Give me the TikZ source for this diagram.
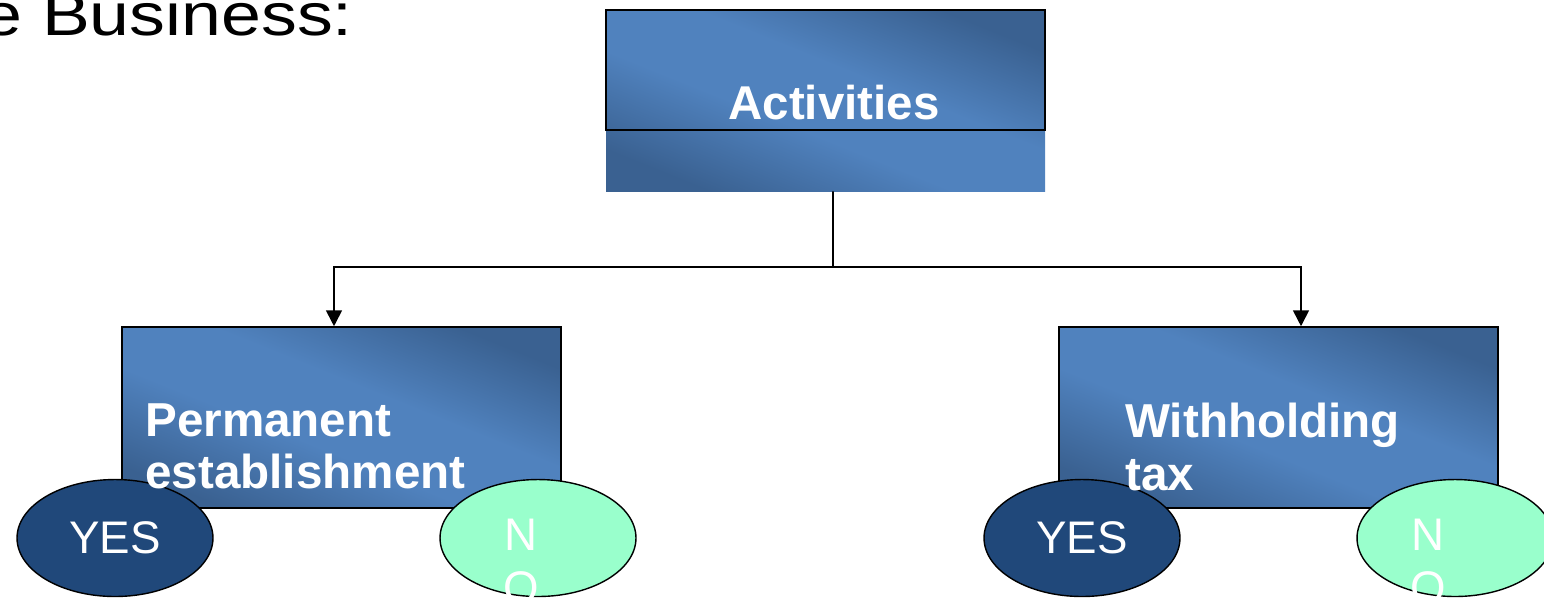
\documentclass[tikz,border=0pt]{standalone}
\usepackage{fontspec}
\setmainfont{Liberation Sans}
\usepackage{xcolor}
\usepackage{graphicx}
\usetikzlibrary{arrows.meta, shapes.geometric, positioning, fit, calc}

\definecolor{boxlight}{RGB}{80,130,190}
\definecolor{boxdark}{RGB}{58,97,145}
\definecolor{yesblue}{RGB}{32,72,122}
\definecolor{nomint}{RGB}{153,255,204}

\pgfdeclareverticalshading{boxshade}{100bp}{color(0bp)=(boxdark);
  color(25bp)=(boxdark); color(43bp)=(boxlight); color(57bp)=(boxlight);
  color(75bp)=(boxdark); color(100bp)=(boxdark)}

\begin{document}
\begin{tikzpicture}[
  x=0.02cm, y=-0.02cm,
  every node/.style={font=\fontsize{27}{30.05}\selectfont},
  box/.style={rectangle, inner sep=0pt, shade, shading=boxshade,
              shading angle=-22},
  boxline/.style={draw, line width=0.9pt},
  boxtext/.style={anchor=north west, inner sep=0pt, align=left, text=white,
                  font=\fontsize{27.1}{30.05}\selectfont\bfseries},
  yesell/.style={ellipse, draw, line width=0.8pt, fill=yesblue,
                 minimum width=3.92cm, minimum height=2.34cm, inner sep=0pt,
                 text=white, font=\fontsize{26}{30.05}\selectfont},
  noell/.style={yesell, fill=nomint},
  notext/.style={anchor=north, inner sep=0pt, align=center, text=white,
                 font=\fontsize{26}{30.05}\selectfont},
  conn/.style={line width=1pt},
  arr/.style={conn, -{Triangle[width=9pt, length=9pt]}},
]
\useasboundingbox (0,0) rectangle (1544,600);
\clip (0,0) rectangle (1544,600);

\node[anchor=base west, inner sep=0pt, font=\fontsize{34}{38}\selectfont]
  (title) at (-18,35) {\scalebox{1.2}[1]{e Business:}};

% top box
\node[box, fit={(606,10) (1045,191)}] (actbg) {};
\node[boxline, fit={(606,10) (1045,130)}, inner sep=0pt] (act) {};
\node[anchor=base, inner sep=0pt, text=white,
      font=\fontsize{27}{30.05}\selectfont\bfseries] (acttext) at (834,119) {Activities};

% lower boxes
\node[box, boxline, fit={(122,327) (561,508)}] (pe) {};
\node[box, boxline, fit={(1059,327) (1498,508)}] (wt) {};

\coordinate (split) at (833,267);
\draw[conn] ([xshift=0.15cm]actbg.south) -- (split);
\draw[arr] (split) -| ([xshift=-0.15cm]pe.north);
\draw[arr] (split) -| ([xshift=0.45cm]wt.north);

% answers
\node[yesell] (peyes) at (115,538) {YES};
\node[noell]  (peno)  at (538,538) {};
\node[yesell] (wtyes) at (1082,538) {YES};
\node[noell]  (wtno)  at (1455,538) {};

\node[boxtext] (petext) at (145,403) {Permanent\\establishment};
\node[boxtext] (wttext) at (1125,403) {Withholding\\tax};
\node[notext] (penotext) at ($(peno)+(-17,-19)$) {N\\O};
\node[notext] (wtnotext) at ($(wtno)+(-27,-19)$) {N\\O};
\end{tikzpicture}
\end{document}
